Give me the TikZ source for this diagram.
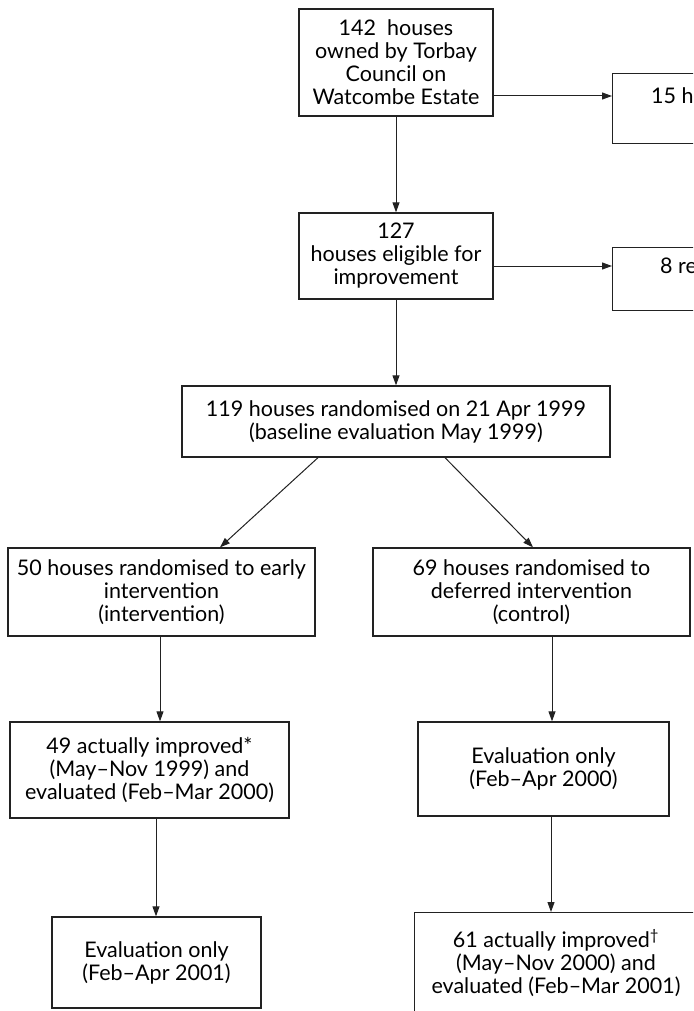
\documentclass[tikz,border=0pt]{standalone}
\usepackage{fontspec}
\setmainfont{Lato}
\usetikzlibrary{arrows.meta,calc}
\definecolor{ink}{HTML}{222222}
\begin{document}
\begin{tikzpicture}[x=1pt,y=-1pt,
  box/.style={draw=ink, line width=1.3pt, inner sep=0pt, align=center,
    font=\fontsize{21.5}{23}\selectfont, text=black},
  txt/.style={inner sep=0pt, font=\fontsize{21.5}{23}\selectfont, text=black},
  arr/.style={draw=ink, line width=1pt, -{Triangle[length=10pt,width=7pt]}}]
\useasboundingbox (0,0) rectangle (693,1011);
\clip (0,0) rectangle (693,1011);
% boxes: centre, width, height
\node[box, minimum width=194pt, minimum height=107pt] (b1) at (396,62.5)
  {142~ houses\\owned by Torbay\\Council on\\Watcombe Estate};
\node[box, minimum width=290pt, minimum height=70pt, anchor=north west] (b15) at (612,73) {};
\node[txt, anchor=west] (t15) at (651,96) {15 houses};
\node[box, minimum width=194pt, minimum height=86pt] (b127) at (396,256)
  {127\\houses eligible for\\improvement};
\node[box, minimum width=290pt, minimum height=63pt, anchor=north west] (b8) at (612,247) {};
\node[txt, anchor=west] (t8) at (660,266) {8 refused};
\node[box, minimum width=428pt, minimum height=71pt] (b119) at (396,421.5)
  {119 houses randomised on 21 Apr 1999\\(baseline evaluation May 1999)};
\node[box, minimum width=307pt, minimum height=88pt] (b50) at (161.5,592)
  {50 houses randomised to early\\intervention\\(intervention)};
\node[box, minimum width=317pt, minimum height=88pt] (b69) at (531.5,592)
  {69 houses randomised to\\deferred intervention\\(control)};
\node[box, minimum width=279pt, minimum height=96pt] (b49) at (149.5,770)
  {49 actually improved*\\(May–Nov 1999) and\\evaluated (Feb–Mar 2000)};
\node[box, minimum width=251pt, minimum height=94pt] (be00) at (543.5,769)
  {Evaluation only\\(Feb–Apr 2000)};
\node[box, minimum width=209pt, minimum height=91pt] (be01) at (156.5,962.5)
  {Evaluation only\\(Feb–Apr 2001)};
\node[box, minimum width=284pt, minimum height=106pt, anchor=north west] (b61) at (414,912) {};
\node[txt, align=center, anchor=north] (t61) at (556,929)
  {61 actually improved\textsuperscript{†}\\(May–Nov 2000) and\\evaluated (Feb–Mar 2001)};
% helper coordinates
\coordinate (xa) at (160,0);
\coordinate (xb) at (156,0);
\coordinate (xc) at (552,0);
\coordinate (xd) at (551,0);
\coordinate (dl0) at (318,457);
\coordinate (dl1) at (220,548);
\coordinate (dr0) at (445,457);
\coordinate (dr1) at (533,548);
% connectors
\draw[arr] (b1.east |- t15) -- (b15.west |- t15);
\draw[arr] (b1.south) -- (b127.north);
\draw[arr] (b127.east |- t8) -- (b8.west |- t8);
\draw[arr] (b127.south) -- (b119.north);
\draw[arr] (b119.south -| dl0) -- (b50.north -| dl1);
\draw[arr] (b119.south -| dr0) -- (b69.north -| dr1);
\draw[arr] (b50.south -| xa) -- (b49.north -| xa);
\draw[arr] (b69.south -| xc) -- (be00.north -| xc);
\draw[arr] (b49.south -| xb) -- (be01.north -| xb);
\draw[arr] (be00.south -| xd) -- (b61.north -| xd);
\end{tikzpicture}
\end{document}
